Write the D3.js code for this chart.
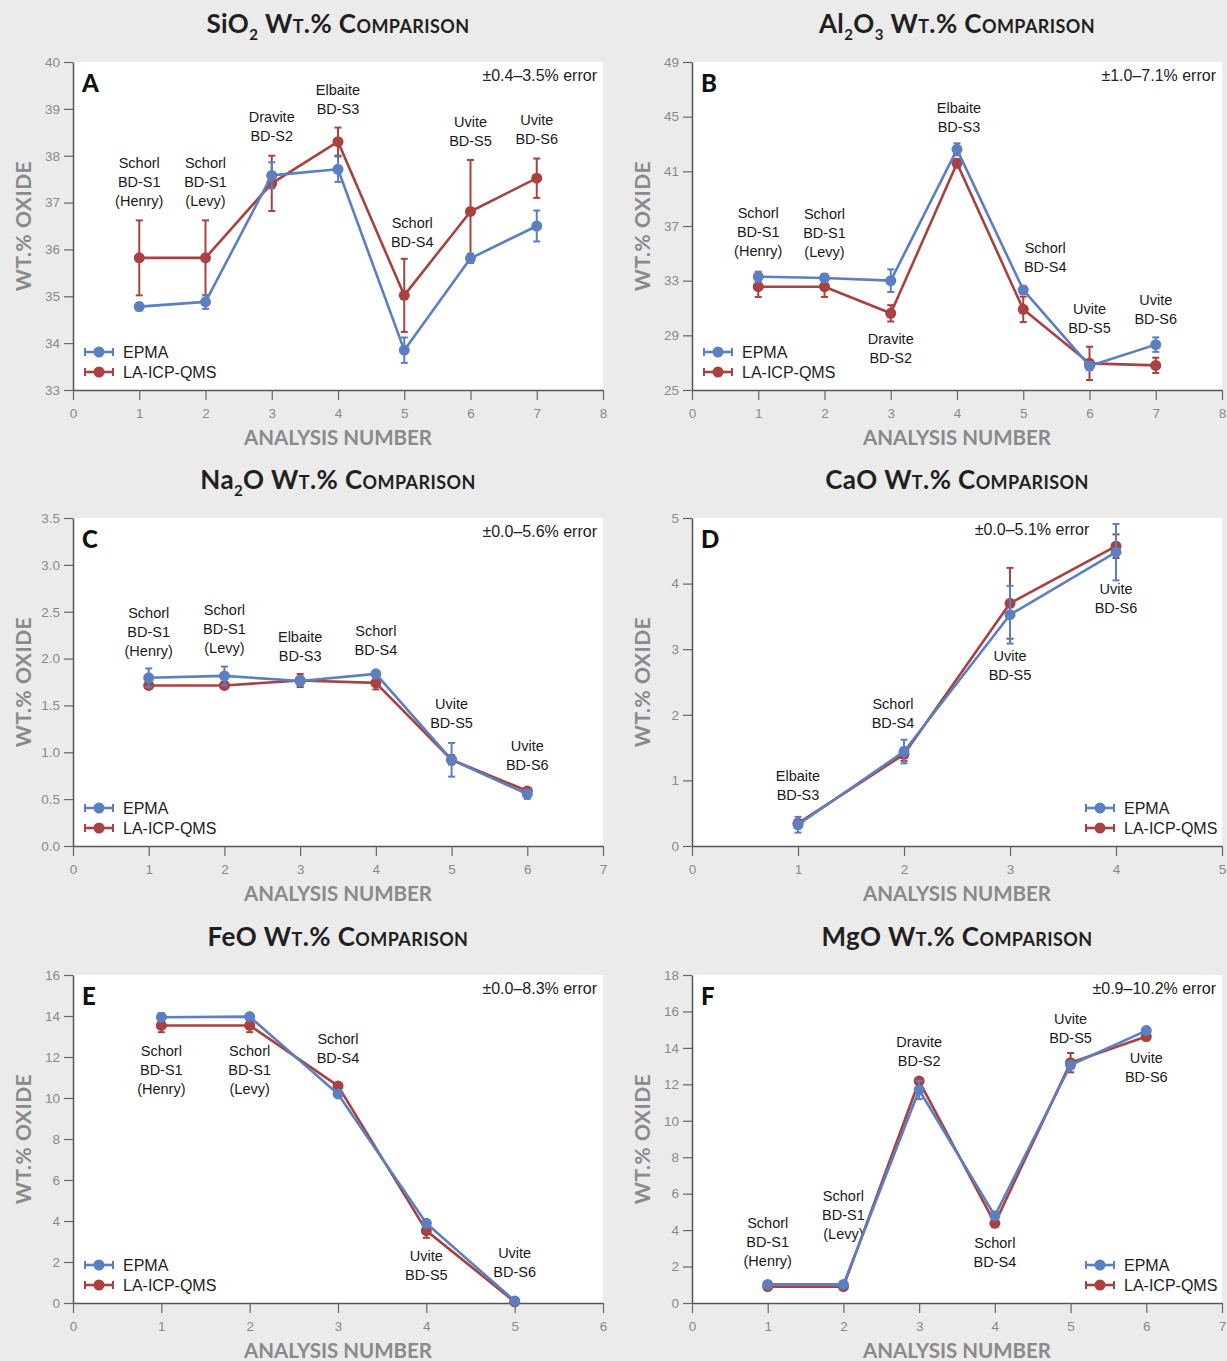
<!DOCTYPE html>
<html>
<head>
<meta charset="utf-8">
<script src="https://cdn.jsdelivr.net/npm/d3@7"></script>
<style>
  body { margin: 0; background: #ebebeb; }
  svg { display: block; }
</style>
</head>
<body>
<svg id="chart" width="1227" height="1361"></svg>
<script>
// ---- data ----
var S1H = "Schorl\nBD-S1\n(Henry)", S1L = "Schorl\nBD-S1\n(Levy)",
    S2 = "Dravite\nBD-S2", S3 = "Elbaite\nBD-S3", S4 = "Schorl\nBD-S4",
    S5 = "Uvite\nBD-S5", S6 = "Uvite\nBD-S6";

var sio2Labels = [S1H, S1L, S2, S3, S4, S5, S6];
var sio2Epma = [34.78, 34.88, 37.58, 37.71, 33.85, 35.81, 36.50];
var sio2EpmaErr = [0.08, 0.15, 0.28, 0.27, 0.27, 0.10, 0.33];
var sio2Icp = [35.82, 35.82, 37.41, 38.30, 35.02, 36.81, 37.52];
var sio2IcpErr = [0.80, 0.80, 0.59, 0.30, 0.78, 1.10, 0.42];
var sio2Ticks = [33, 34, 35, 36, 37, 38, 39, 40];

var al2o3Labels = [S1H, S1L, S2, S3, S4, S5, S6];
var al2o3Epma = [33.29, 33.20, 33.00, 42.61, 32.32, 26.76, 28.32];
var al2o3EpmaErr = [0.37, 0.30, 0.83, 0.44, 0.30, 0.30, 0.53];
var al2o3Icp = [32.56, 32.56, 30.61, 41.59, 30.90, 26.95, 26.80];
var al2o3IcpErr = [0.75, 0.75, 0.60, 0.30, 0.93, 1.22, 0.56];
var al2o3Ticks = [25, 29, 33, 37, 41, 45, 49];

var na2oLabels = [S1H, S1L, S3, S4, S5, S6];
var na2oEpma = [1.795, 1.815, 1.76, 1.837, 0.92, 0.553];
var na2oEpmaErr = [0.10, 0.10, 0.05, 0.02, 0.18, 0.05];
var na2oIcp = [1.713, 1.713, 1.766, 1.741, 0.92, 0.588];
var na2oIcpErr = [0.03, 0.03, 0.07, 0.07, 0.05, 0.03];
var na2oTicks = [0, 0.5, 1, 1.5, 2, 2.5, 3, 3.5];

var caoLabels = [S3, S4, S5, S6];
var caoEpma = [0.324, 1.44, 3.526, 4.479];
var caoEpmaErr = [0.12, 0.18, 0.44, 0.43];
var caoIcp = [0.345, 1.398, 3.70, 4.57];
var caoIcpErr = [0.05, 0.10, 0.54, 0.18];
var caoTicks = [0, 1, 2, 3, 4, 5];

var feoLabels = [S1H, S1L, S4, S5, S6];
var feoEpma = [13.94, 13.97, 10.20, 3.89, 0.10];
var feoEpmaErr = [0.20, 0.10, 0.10, 0.10, 0.05];
var feoIcp = [13.54, 13.54, 10.59, 3.53, 0.06];
var feoIcpErr = [0.33, 0.33, 0.10, 0.35, 0.05];
var feoTicks = [0, 2, 4, 6, 8, 10, 12, 14, 16];

var mgoLabels = [S1H, S1L, S2, S4, S5, S6];
var mgoEpma = [1.02, 1.02, 11.69, 4.79, 13.06, 14.95];
var mgoEpmaErr = [0.10, 0.10, 0.50, 0.10, 0.20, 0.10];
var mgoIcp = [0.90, 0.90, 12.18, 4.37, 13.19, 14.62];
var mgoIcpErr = [0.05, 0.05, 0.10, 0.10, 0.53, 0.20];
var mgoTicks = [0, 2, 4, 6, 8, 10, 12, 14, 16, 18];

var seriesNames = ["EPMA", "LA-ICP-QMS"];
var blue = "#5b7fc1", red = "#a8413f";

// ---- layout ----
var svg = d3.select("#chart");
var plotW = 530, plotH = 328;
var titleFont = "Lato, 'Open Sans', sans-serif";
var textFont = "'Liberation Sans', Arial, sans-serif";
var WT = [" Wt.% Comparison", "sc"];

var panels = [
  { left: 73, top: 62, xMax: 8, y: [33, 40], ticks: sio2Ticks, fmt: d3.format("d"), letter: "A",
    title: [["SiO"], ["2", "sub"], WT], err: "±0.4–3.5% error",
    labels: sio2Labels, epma: sio2Epma, epmaErr: sio2EpmaErr, icp: sio2Icp, icpErr: sio2IcpErr,
    labelY: [37.84, 37.84, 38.83, 39.40, 36.56, 38.72, 38.76], labelDx: [0, 0, 0, 0, 8, 0, 0] },
  { left: 692, top: 62, xMax: 8, y: [25, 49], ticks: al2o3Ticks, fmt: d3.format("d"), letter: "B",
    title: [["Al"], ["2", "sub"], ["O"], ["3", "sub"], WT], err: "±1.0–7.1% error",
    labels: al2o3Labels, epma: al2o3Epma, epmaErr: al2o3EpmaErr, icp: al2o3Icp, icpErr: al2o3IcpErr,
    labelY: [37.95, 37.88, 28.73, 45.63, 35.39, 30.93, 31.59], labelDx: [0, 0, 0, 2, 22, 0, 0] },
  { left: 73, top: 518, xMax: 7, y: [0, 3.5], ticks: na2oTicks, fmt: d3.format(".1f"), letter: "C",
    title: [["Na"], ["2", "sub"], ["O"], WT], err: "±0.0–5.6% error",
    labels: na2oLabels, epma: na2oEpma, epmaErr: na2oEpmaErr, icp: na2oIcp, icpErr: na2oIcpErr,
    labelY: [2.49, 2.52, 2.23, 2.29, 1.51, 1.07], labelDx: [0, 0, 0, 0, 0, 0] },
  { left: 692, top: 518, xMax: 5, y: [0, 5], ticks: caoTicks, fmt: d3.format("d"), letter: "D",
    title: [["CaO"], WT], err: "±0.0–5.1% error", errCenter: 340, legendRight: true,
    labels: caoLabels, epma: caoEpma, epmaErr: caoEpmaErr, icp: caoIcp, icpErr: caoIcpErr,
    labelY: [1.06, 2.17, 2.89, 3.92], labelDx: [0, -11, 0, 0] },
  { left: 73, top: 975, xMax: 6, y: [0, 16], ticks: feoTicks, fmt: d3.format("d"), letter: "E",
    title: [["FeO"], WT], err: "±0.0–8.3% error",
    labels: feoLabels, epma: feoEpma, epmaErr: feoEpmaErr, icp: feoIcp, icpErr: feoIcpErr,
    labelY: [12.29, 12.29, 12.88, 2.29, 2.44], labelDx: [0, 0, 0, 0, 0] },
  { left: 692, top: 975, xMax: 7, y: [0, 18], ticks: mgoTicks, fmt: d3.format("d"), letter: "F",
    title: [["MgO"], WT], err: "±0.9–10.2% error", legendRight: true,
    labels: mgoLabels, epma: mgoEpma, epmaErr: mgoEpmaErr, icp: mgoIcp, icpErr: mgoIcpErr,
    labelY: [4.39, 5.87, 14.32, 3.29, 15.59, 13.45], labelDx: [0, 0, 0, 0, 0, 0] }
];

function drawSeries(g, x, y, vals, errs, color) {
  var line = d3.line().x(function(d, i) { return x(i + 1); }).y(function(d) { return y(d); });
  g.append("path").datum(vals).attr("d", line)
    .attr("fill", "none").attr("stroke", color).attr("stroke-width", 2.6).attr("stroke-linejoin", "round");
  var pts = g.selectAll(null).data(vals).enter().append("g");
  pts.append("line")
    .attr("x1", function(d, i) { return x(i + 1); }).attr("x2", function(d, i) { return x(i + 1); })
    .attr("y1", function(d, i) { return y(d - errs[i]); }).attr("y2", function(d, i) { return y(d + errs[i]); })
    .attr("stroke", color).attr("stroke-width", 2);
  [-1, 1].forEach(function(s) {
    pts.append("line")
      .attr("x1", function(d, i) { return x(i + 1) - 3.5; }).attr("x2", function(d, i) { return x(i + 1) + 3.5; })
      .attr("y1", function(d, i) { return y(d + s * errs[i]); }).attr("y2", function(d, i) { return y(d + s * errs[i]); })
      .attr("stroke", color).attr("stroke-width", 2);
  });
  pts.append("circle")
    .attr("cx", function(d, i) { return x(i + 1); }).attr("cy", function(d) { return y(d); })
    .attr("r", 5.5).attr("fill", color);
}

function drawPanel(p) {
  var g = svg.append("g");
  var x = d3.scaleLinear().domain([0, p.xMax]).range([p.left, p.left + plotW]);
  var y = d3.scaleLinear().domain(p.y).range([p.top + plotH, p.top]);

  g.append("rect").attr("x", p.left).attr("y", p.top).attr("width", plotW).attr("height", plotH).attr("fill", "#fff");

  var ya = g.append("g").attr("transform", "translate(" + p.left + ",0)")
    .call(d3.axisLeft(y).tickValues(p.ticks).tickFormat(p.fmt).tickSize(9).tickSizeOuter(0).tickPadding(4));
  var xa = g.append("g").attr("transform", "translate(0," + (p.top + plotH) + ")")
    .call(d3.axisBottom(x).ticks(p.xMax).tickFormat(d3.format("d")).tickSize(10).tickSizeOuter(0).tickPadding(8));
  [ya, xa].forEach(function(a) {
    a.select(".domain").attr("stroke", "#555").attr("stroke-width", 1.5);
    a.selectAll(".tick line").attr("stroke", "#666").attr("stroke-width", 1.2);
    a.selectAll(".tick text").attr("fill", "#8a8a8a").style("font-family", textFont).style("font-size", "13.5px");
  });

  // titles
  var t = g.append("text").attr("x", p.left + plotW / 2).attr("y", p.top - 29)
    .attr("text-anchor", "middle").attr("fill", "#231f20")
    .style("font-family", titleFont).style("font-weight", 700).style("font-size", "26px")
    .style("letter-spacing", "0.4px");
  p.title.forEach(function(part, i) {
    var prevSub = i > 0 && p.title[i - 1][1] === "sub";
    var ts = t.append("tspan").text(part[0]);
    if (part[1] === "sub") ts.attr("dy", 7).style("font-size", "15px");
    else if (prevSub) ts.attr("dy", -7);
    if (part[1] === "sc") ts.style("font-variant", "small-caps");
  });

  g.append("text").attr("transform", "translate(" + (p.left - 51) + "," + (p.top + plotH / 2) + ") rotate(-90)")
    .attr("text-anchor", "middle").attr("dominant-baseline", "central").attr("fill", "#8a8a8a")
    .style("font-family", titleFont).style("font-weight", 700).style("font-size", "21px")
    .style("letter-spacing", "0.5px")
    .text("WT.% OXIDE");
  g.append("text").attr("x", p.left + plotW / 2).attr("y", p.top + plotH + 47)
    .attr("text-anchor", "middle").attr("dominant-baseline", "central").attr("fill", "#8a8a8a")
    .style("font-family", titleFont).style("font-weight", 700).style("font-size", "20.5px")
    .text("ANALYSIS NUMBER");

  g.append("text").attr("x", p.left + 9).attr("y", p.top + 20).attr("dominant-baseline", "central")
    .attr("fill", "#111").style("font-family", titleFont).style("font-weight", 900).style("font-size", "24px")
    .text(p.letter);

  var et = g.append("text").attr("dominant-baseline", "central").attr("fill", "#222")
    .style("font-family", textFont).style("font-size", "16px").text(p.err);
  if (p.errCenter) et.attr("x", p.left + p.errCenter).attr("y", p.top + 11).attr("text-anchor", "middle");
  else et.attr("x", p.left + plotW - 6).attr("y", p.top + 13).attr("text-anchor", "end");

  // sample labels
  p.labels.forEach(function(lab, i) {
    var lt = g.append("text").attr("text-anchor", "middle").attr("fill", "#1a1a1a")
      .style("font-family", textFont).style("font-size", "14.5px");
    lab.split("\n").forEach(function(s, k) {
      lt.append("tspan").attr("x", x(i + 1) + p.labelDx[i]).attr("y", y(p.labelY[i]) + k * 19 + 5).text(s);
    });
  });

  drawSeries(g, x, y, p.icp, p.icpErr, red);
  drawSeries(g, x, y, p.epma, p.epmaErr, blue);

  // legend
  var lx = p.legendRight ? p.left + plotW - 136 : p.left + 12;
  [blue, red].forEach(function(c, k) {
    var ly = p.top + plotH - 38 + k * 20;
    var lg = g.append("g");
    lg.append("line").attr("x1", lx).attr("x2", lx + 28).attr("y1", ly).attr("y2", ly).attr("stroke", c).attr("stroke-width", 2.6);
    [lx, lx + 28].forEach(function(cx) {
      lg.append("line").attr("x1", cx).attr("x2", cx).attr("y1", ly - 4).attr("y2", ly + 4).attr("stroke", c).attr("stroke-width", 2);
    });
    lg.append("circle").attr("cx", lx + 14).attr("cy", ly).attr("r", 5.5).attr("fill", c);
    lg.append("text").attr("x", lx + 38).attr("y", ly).attr("dominant-baseline", "central").attr("fill", "#222")
      .style("font-family", textFont).style("font-size", "16px").text(seriesNames[k]);
  });
}

panels.forEach(drawPanel);
</script>
</body>
</html>
